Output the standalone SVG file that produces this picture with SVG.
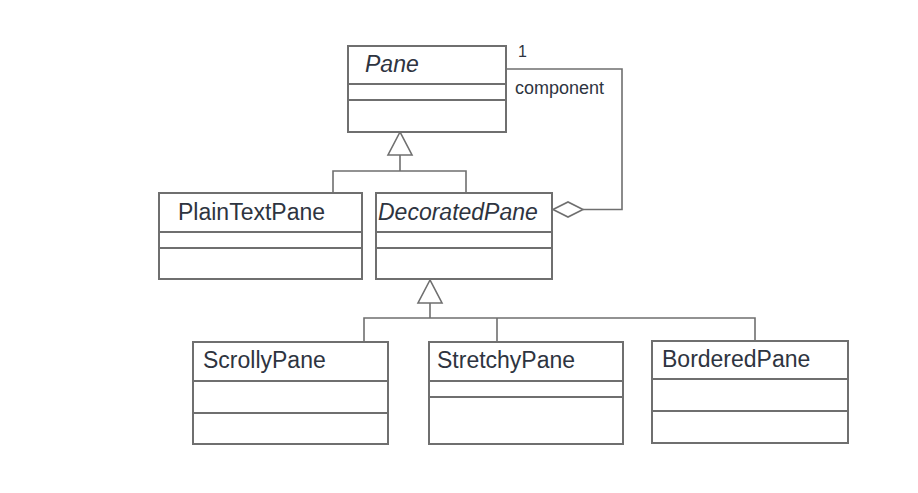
<svg xmlns="http://www.w3.org/2000/svg" width="918" height="493" viewBox="0 0 918 493">
<style>
.box{fill:#ffffff;stroke:#6f6f6f;stroke-width:2}
.div{stroke:#6f6f6f;stroke-width:2;fill:none}
.name{font-family:"Liberation Sans",Arial,sans-serif;font-size:23px;fill:#2e3440}
.it{font-style:italic}
.lbl{font-family:"Liberation Sans",Arial,sans-serif;font-size:18px;fill:#2e3440}
.con{stroke:#6f6f6f;stroke-width:1.6;fill:none}
.tri{stroke:#6f6f6f;stroke-width:1.6;fill:#ffffff}
</style>
<rect width="918" height="493" fill="#ffffff"/>
<g id="connectors">
  <polygon class="tri" points="400,132 388,155 412,155"/>
  <polyline class="con" points="400,155 400,171"/>
  <polyline class="con" points="333,193 333,171 466,171 466,193"/>
  <polygon class="tri" points="430,280 418,303 442,303"/>
  <polyline class="con" points="430,303 430,318"/>
  <polyline class="con" points="364,342 364,318 755,318 755,341"/>
  <polyline class="con" points="497,318 497,342"/>
  <polyline class="con" points="506,69 622,69 622,209.5 583,209.5"/>
  <polygon class="tri" points="553,209.5 568,202 583,209.5 568,217"/>
  <text class="lbl" x="518" y="57" style="font-size:16px">1</text>
  <text class="lbl" x="515" y="94">component</text>
</g>
<g id="pane">
  <rect class="box" x="348" y="46" width="158" height="86"/>
  <line class="div" x1="348" y1="84" x2="506" y2="84"/>
  <line class="div" x1="348" y1="100" x2="506" y2="100"/>
  <text class="name it" x="365" y="72">Pane</text>
</g>
<g id="plaintextpane">
  <rect class="box" x="159" y="193" width="203" height="86"/>
  <line class="div" x1="159" y1="232" x2="362" y2="232"/>
  <line class="div" x1="159" y1="248" x2="362" y2="248"/>
  <text class="name" x="178" y="220">PlainTextPane</text>
</g>
<g id="decoratedpane">
  <rect class="box" x="376" y="193" width="176" height="86"/>
  <line class="div" x1="376" y1="232" x2="552" y2="232"/>
  <line class="div" x1="376" y1="248" x2="552" y2="248"/>
  <text class="name it" x="378" y="220">DecoratedPane</text>
</g>
<g id="scrollypane">
  <rect class="box" x="193" y="342" width="195" height="102"/>
  <line class="div" x1="193" y1="381" x2="388" y2="381"/>
  <line class="div" x1="193" y1="413" x2="388" y2="413"/>
  <text class="name" x="203" y="368">ScrollyPane</text>
</g>
<g id="stretchypane">
  <rect class="box" x="429" y="342" width="194" height="102"/>
  <line class="div" x1="429" y1="381" x2="623" y2="381"/>
  <line class="div" x1="429" y1="397" x2="623" y2="397"/>
  <text class="name" x="437" y="368">StretchyPane</text>
</g>
<g id="borderedpane">
  <rect class="box" x="652" y="341" width="196" height="102"/>
  <line class="div" x1="652" y1="379" x2="848" y2="379"/>
  <line class="div" x1="652" y1="411" x2="848" y2="411"/>
  <text class="name" x="662" y="367">BorderedPane</text>
</g>
</svg>
